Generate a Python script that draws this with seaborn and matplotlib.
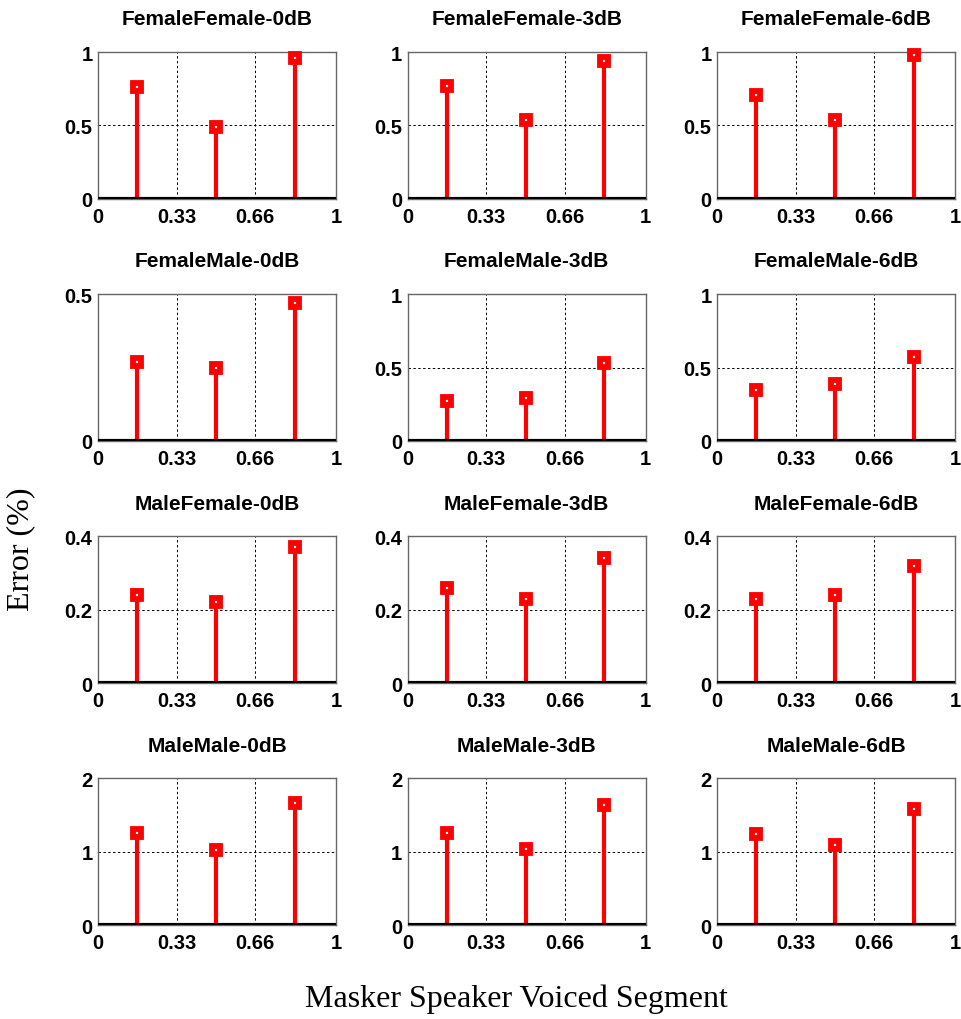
import numpy as np
import pandas as pd
import matplotlib
matplotlib.use("Agg")
import matplotlib.pyplot as plt
import seaborn as sns

# ---- data ----
segments = [0.165, 0.495, 0.825]
pairs = ["FemaleFemale", "FemaleMale", "MaleFemale", "MaleMale"]
snrs = ["0dB", "3dB", "6dB"]

ff_0 = [0.76, 0.49, 0.96]
ff_3 = [0.77, 0.54, 0.94]
ff_6 = [0.71, 0.54, 0.98]
fm_0 = [0.27, 0.25, 0.47]
fm_3 = [0.27, 0.29, 0.53]
fm_6 = [0.35, 0.39, 0.57]
mf_0 = [0.24, 0.22, 0.37]
mf_3 = [0.26, 0.23, 0.34]
mf_6 = [0.23, 0.24, 0.32]
mm_0 = [1.26, 1.02, 1.67]
mm_3 = [1.26, 1.04, 1.64]
mm_6 = [1.24, 1.09, 1.58]

errors = [[ff_0, ff_3, ff_6], [fm_0, fm_3, fm_6], [mf_0, mf_3, mf_6], [mm_0, mm_3, mm_6]]

ytick_sets = [
    [[0, 0.5, 1], [0, 0.5, 1], [0, 0.5, 1]],
    [[0, 0.5], [0, 0.5, 1], [0, 0.5, 1]],
    [[0, 0.2, 0.4], [0, 0.2, 0.4], [0, 0.2, 0.4]],
    [[0, 1, 2], [0, 1, 2], [0, 1, 2]],
]
xticks = [0, 0.33, 0.66, 1]
xtick_labels = ["0", "0.33", "0.66", "1"]

sns.set_style("white")
plt.rcParams["font.family"] = ["Liberation Sans", "DejaVu Sans"]
plt.rcParams["text.color"] = "black"
plt.rcParams["xtick.color"] = "black"
plt.rcParams["ytick.color"] = "black"

fig, axes = plt.subplots(4, 3, figsize=(9.62, 10.2), dpi=100)
fig.subplots_adjust(left=0.102, right=0.993, top=0.948, bottom=0.092,
                    wspace=0.30, hspace=0.65)

for r in range(4):
    for c in range(3):
        ax = axes[r, c]
        vals = errors[r][c]
        yt = ytick_sets[r][c]
        df = pd.DataFrame({"x": segments, "y": vals})
        ax.set_xlim(0, 1)
        ax.set_ylim(0, yt[-1])
        ax.set_xticks(xticks)
        ax.set_xticklabels(xtick_labels)
        ax.set_yticks(yt)
        ax.set_yticklabels(["%g" % v for v in yt])
        ax.grid(True, color="black", linestyle=(0, (2.5, 2.5)), linewidth=0.7, zorder=0)
        ax.set_axisbelow(True)
        ax.vlines(df["x"], 0, df["y"], color="red", linewidth=3.0, zorder=3)
        ax.axhline(0, color="black", linewidth=3.0, zorder=4)
        sns.scatterplot(data=df, x="x", y="y", ax=ax, marker="s", s=30,
                        facecolor="white", edgecolor="red", linewidth=4.2,
                        zorder=5, clip_on=False, legend=False)
        ax.collections[-1].set_joinstyle("miter")
        ax.set_xlabel("")
        ax.set_ylabel("")
        ax.set_title(f"{pairs[r]}-{snrs[c]}", fontsize=15, fontweight="bold", pad=20)
        for sp in ax.spines.values():
            sp.set_color("#666666")
            sp.set_linewidth(1.0)
            sp.set_visible(True)
        ax.tick_params(axis="x", length=0, labelsize=14.5, pad=6)
        ax.tick_params(axis="y", length=0, labelsize=14.5, pad=4)
        for lab in ax.get_xticklabels() + ax.get_yticklabels():
            lab.set_fontweight("bold")

fig.text(0.022, 0.462, "Error (%)", rotation=90, ha="center", va="center",
         fontsize=23, family=["Liberation Serif", "DejaVu Serif"])
fig.text(0.537, 0.020, "Masker Speaker Voiced Segment", ha="center", va="center",
         fontsize=23, family=["Liberation Serif", "DejaVu Serif"])

fig.savefig("out.png", dpi=100)
